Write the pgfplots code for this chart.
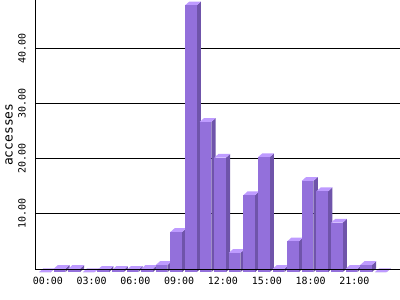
\documentclass[border=0pt]{standalone}
\usepackage{fontspec}
\setmainfont{DejaVu Sans Mono}
\setmonofont{DejaVu Sans Mono}
\usepackage{pgfplots}
\usepackage{pgfplotstable}
\pgfplotsset{compat=1.18}
\definecolor{barfront}{RGB}{147,112,219}
\definecolor{barside}{RGB}{111,84,170}
\definecolor{bartop}{RGB}{190,155,255}

\pgfplotstableread{
h v
0 0
1 0.6
2 0.6
3 0
4 0.4
5 0.4
6 0.4
7 0.6
8 1.3
9 7.3
10 48.5
11 27.3
12 20.8
13 3.5
14 14.0
15 20.9
16 0.6
17 5.6
18 16.6
19 14.7
20 9.0
21 0.6
22 1.3
23 0
}\hourly

\begin{document}
\begin{tikzpicture}
\begin{axis}[
  scale only axis,
  width=364.5bp, height=269.3bp,
  xmin=-0.24, xmax=24.726,
  ymin=-0.18, ymax=48.78,
  axis lines*=left,
  axis line style={black, line width=1bp},
  clip=false,
  ymajorgrids, grid style={black, line width=1bp},
  ytick={10,20,30,40},
  yticklabels={10.00,20.00,30.00,40.00},
  xtick={0.6,3.6,6.6,9.6,12.6,15.6,18.6,21.6},
  xticklabels={00:00,03:00,06:00,09:00,12:00,15:00,18:00,21:00},
  tick style={draw=none},
  ticklabel style={font=\fontsize{10}{12}\selectfont},
  yticklabel style={rotate=90, anchor=center, yshift=13.5bp},
  xticklabel style={anchor=center, yshift=-11.7bp},
  ylabel={accesses},
  ylabel style={font=\fontsize{13}{15}\selectfont, at={(axis description cs:-0.0727,0.5)}, anchor=center},
]
\pgfplotsinvokeforeach{0,...,23}{
  \pgfplotstablegetelem{#1}{v}\of\hourly
  \pgfmathsetmacro{\vv}{\pgfplotsretval}
  \pgfmathsetmacro{\vf}{\vv-0.7}
  \pgfmathsetmacro{\xa}{#1}
  \pgfmathsetmacro{\xb}{#1+0.8}
  \pgfmathsetmacro{\xc}{#1+0.8+0.295}
  \pgfmathsetmacro{\xd}{#1+0.295}
  \edef\drawbar{%
    \noexpand\addplot[draw=none, fill=barside, forget plot] coordinates {(\xb,-0.7) (\xc,0) (\xc,\vv) (\xb,\vf)};
    \noexpand\addplot[draw=none, fill=bartop, forget plot] coordinates {(\xa,\vf) (\xd,\vv) (\xc,\vv) (\xb,\vf)};
    \noexpand\addplot[draw=none, fill=barfront, forget plot] coordinates {(\xa,-0.7) (\xb,-0.7) (\xb,\vf) (\xa,\vf)};
  }\drawbar
}
\addplot[black, line width=1bp, forget plot] coordinates {(-0.24,-0.18) (24.726,-0.18)};
\end{axis}
\pgfresetboundingbox
\useasboundingbox (-35.5bp,-30.7bp) rectangle (364.5bp,269.3bp);
\end{tikzpicture}
\end{document}
